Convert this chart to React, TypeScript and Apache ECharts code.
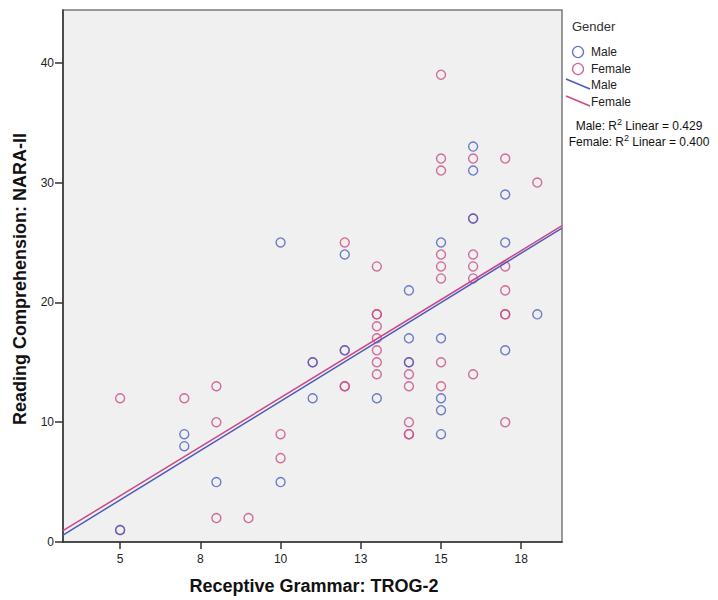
import React, { useEffect, useRef } from "react";
import * as echarts from "echarts";

// Receptive Grammar (TROG-2) scores and Reading Comprehension (NARA-II) scores
const maleX = [5, 7, 7, 8, 10, 10, 11, 11, 12, 12, 13, 14, 14, 14, 15, 15, 15, 15, 15, 16, 16, 16, 17, 17, 17, 18];
const maleY = [1, 9, 8, 5, 25, 5, 15, 12, 24, 16, 12, 21, 17, 15, 25, 17, 12, 11, 9, 33, 31, 27, 29, 25, 16, 19];

const femaleX = [5, 5, 7, 8, 8, 8, 9, 10, 10, 11, 12, 12, 12, 12, 13, 13, 13, 13, 13, 13, 13, 13, 14, 14, 14, 14, 14, 14, 15, 15, 15, 15, 15, 15, 15, 15, 16, 16, 16, 16, 16, 16, 17, 17, 17, 17, 17, 17, 18];
const femaleY = [12, 1, 12, 13, 10, 2, 2, 9, 7, 15, 25, 16, 13, 13, 23, 19, 19, 18, 17, 16, 15, 14, 15, 14, 13, 10, 9, 9, 39, 32, 31, 24, 23, 22, 15, 13, 32, 27, 24, 23, 22, 14, 32, 23, 21, 19, 19, 10, 30];

// Linear fit lines: [intercept, slope]
const maleFit = [-4.73, 1.648];
const femaleFit = [-4.33, 1.637];

const xTicks = [5, 7.5, 10, 12.5, 15, 17.5];
const yTicks = [0, 10, 20, 30, 40];
const xRange = [3.22, 18.77];
const yRange = [0, 44.4];

const legendTitle = "Gender";
const groupNames = ["Male", "Female"];
const r2Values = ["0.429", "0.400"];

const MALE = "#4a5cbf";
const FEMALE = "#cc4886";
const FONT = "'Liberation Sans', Arial, sans-serif";

function pairs(xs: number[], ys: number[]) {
  return xs.map((x, i) => [x, ys[i]]);
}

function fitLine(fit: number[]) {
  return xRange.map((x) => [x, fit[0] + fit[1] * x]);
}

export default function App() {
  const ref = useRef<HTMLDivElement>(null);

  useEffect(() => {
    if (!ref.current) return;
    const chart = echarts.init(ref.current, null, { renderer: "svg" });

    const scatterStyle = (color: string) => ({
      type: "scatter" as const,
      symbol: "circle",
      symbolSize: 9,
      itemStyle: { color: "rgba(0,0,0,0)", borderColor: color, borderWidth: 1.4, opacity: 0.8 },
      z: 3,
    });

    const lx = 566;
    const graphic: any[] = [
      {
        type: "text",
        left: 572,
        top: 20,
        style: { text: legendTitle, font: `13px ${FONT}`, fill: "#333" },
      },
      { type: "circle", shape: { cx: 578, cy: 52, r: 5.5 }, style: { fill: "none", stroke: MALE, lineWidth: 1.3, opacity: 0.85 } },
      { type: "text", x: 591, y: 52, style: { text: groupNames[0], font: `12px ${FONT}`, fill: "#222", verticalAlign: "middle" } },
      { type: "circle", shape: { cx: 578, cy: 69, r: 5.5 }, style: { fill: "none", stroke: FEMALE, lineWidth: 1.3, opacity: 0.85 } },
      { type: "text", x: 591, y: 69, style: { text: groupNames[1], font: `12px ${FONT}`, fill: "#222", verticalAlign: "middle" } },
      { type: "line", shape: { x1: lx, y1: 79, x2: 590, y2: 89 }, style: { stroke: MALE, lineWidth: 1.5 } },
      { type: "text", x: 591, y: 85, style: { text: groupNames[0], font: `12px ${FONT}`, fill: "#222", verticalAlign: "middle" } },
      { type: "line", shape: { x1: lx, y1: 96, x2: 590, y2: 106 }, style: { stroke: FEMALE, lineWidth: 1.5 } },
      { type: "text", x: 591, y: 102, style: { text: groupNames[1], font: `12px ${FONT}`, fill: "#222", verticalAlign: "middle" } },
      {
        type: "text",
        x: 639,
        y: 126,
        style: {
          text: `${groupNames[0]}: R{s|2} Linear = ${r2Values[0]}`,
          font: `12px ${FONT}`,
          fill: "#111",
          align: "center",
          verticalAlign: "middle",
          rich: { s: { fontSize: 9, fontFamily: FONT, padding: [0, 0, 8, 0], fill: "#111" } },
        },
      },
      {
        type: "text",
        x: 639,
        y: 142,
        style: {
          text: `${groupNames[1]}: R{s|2} Linear = ${r2Values[1]}`,
          font: `12px ${FONT}`,
          fill: "#111",
          align: "center",
          verticalAlign: "middle",
          rich: { s: { fontSize: 9, fontFamily: FONT, padding: [0, 0, 8, 0], fill: "#111" } },
        },
      },
      {
        type: "text",
        x: 314,
        y: 586,
        style: {
          text: "Receptive Grammar: TROG-2",
          font: `bold 18px ${FONT}`,
          fill: "#111",
          align: "center",
          verticalAlign: "middle",
        },
      },
      {
        type: "text",
        x: 20,
        y: 279,
        rotation: Math.PI / 2,
        style: {
          text: "Reading Comprehension: NARA-II",
          font: `bold 18px ${FONT}`,
          fill: "#111",
          align: "center",
          verticalAlign: "middle",
        },
      },
    ];

    chart.setOption({
      animation: false,
      backgroundColor: "#ffffff",
      grid: {
        left: 63,
        right: 156,
        top: 10,
        bottom: 58,
        show: true,
        backgroundColor: "#f0f0f0",
        borderColor: "#7a7a7a",
        borderWidth: 1.5,
      },
      xAxis: {
        type: "value",
        min: xRange[0],
        max: xRange[1],
        axisLine: { show: true, onZero: false, lineStyle: { color: "#333", width: 1.5 } },
        axisTick: { show: true, length: 7, customValues: xTicks, lineStyle: { color: "#333", width: 1.5 } },
        axisLabel: {
          customValues: xTicks,
          formatter: (v: number) => String(Math.round(v)),
          color: "#222",
          fontSize: 12,
          fontFamily: FONT,
          margin: 11,
        },
        splitLine: { show: false },
      },
      yAxis: {
        type: "value",
        min: yRange[0],
        max: yRange[1],
        axisLine: { show: true, lineStyle: { color: "#333", width: 1.5 } },
        axisTick: { show: true, length: 8, customValues: yTicks, lineStyle: { color: "#333", width: 1.5 } },
        axisLabel: {
          customValues: yTicks,
          color: "#222",
          fontSize: 12,
          fontFamily: FONT,
          margin: 9,
        },
        splitLine: { show: false },
      },
      series: [
        { ...scatterStyle(FEMALE), name: "Female", data: pairs(femaleX, femaleY) },
        { ...scatterStyle(MALE), name: "Male", data: pairs(maleX, maleY) },
        {
          type: "line",
          name: "Male fit",
          data: fitLine(maleFit),
          symbol: "none",
          lineStyle: { color: MALE, width: 1.5 },
          z: 4,
        },
        {
          type: "line",
          name: "Female fit",
          data: fitLine(femaleFit),
          symbol: "none",
          lineStyle: { color: FEMALE, width: 1.5 },
          z: 4,
        },
      ],
      graphic,
    });

    return () => chart.dispose();
  }, []);

  return (
    <div
      ref={ref}
      style={{ position: "fixed", left: 0, top: 0, width: 718, height: 600 }}
    />
  );
}
